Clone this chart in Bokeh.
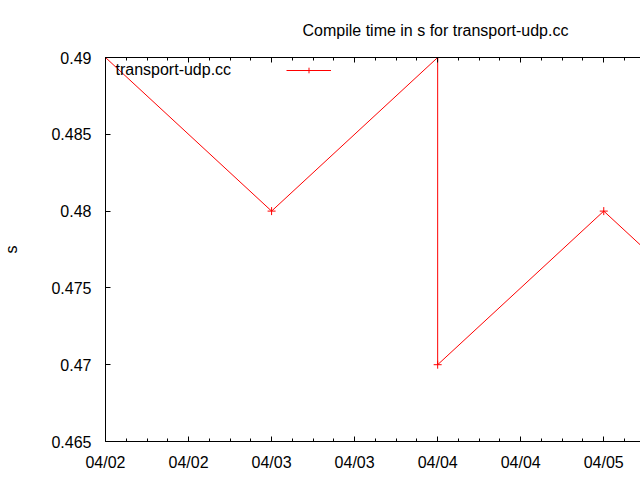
import pandas as pd
from bokeh.plotting import figure
from bokeh.models import (Range1d, SingleIntervalTicker, FixedTicker, DatetimeTickFormatter,
                          NumeralTickFormatter, DatetimeAxis, Label, Legend, LegendItem)
from bokeh.embed import file_html
from bokeh.resources import INLINE

# ---- data ----
dates = ["2013-04-02 00:00", "2013-04-03 00:00", "2013-04-04 00:00",
         "2013-04-04 00:00", "2013-04-05 00:00", "2013-04-06 00:00"]
values = [0.49, 0.48, 0.49, 0.47, 0.48, 0.47]
y_ticks = [0.465, 0.47, 0.475, 0.48, 0.485, 0.49]
series_name = "transport-udp.cc"
title_text = "Compile time in s for transport-udp.cc"
y_label = "s"

times = pd.to_datetime(dates)
FONT = "Liberation Sans"
FS = "16px"

x_start = times[0]
x_end = x_start + pd.Timedelta(hours=77.31)

p = figure(width=640, height=480, x_axis_type="datetime",
           x_range=Range1d(x_start, x_end), y_range=Range1d(0.465, 0.49),
           output_backend="svg", toolbar_location=None,
           min_border_left=104, min_border_right=0, min_border_top=57, min_border_bottom=39,
           outline_line_color=None, background_fill_color="white")
p.xgrid.visible = False
p.ygrid.visible = False

fmt_str = "%m/%d"
xfmt = DatetimeTickFormatter(microseconds=fmt_str, milliseconds=fmt_str, seconds=fmt_str,
                             minsec=fmt_str, minutes=fmt_str, hourmin=fmt_str, hours=fmt_str,
                             days=fmt_str, months=fmt_str, years=fmt_str)
xticker = SingleIntervalTicker(interval=12 * 3600 * 1000, num_minor_ticks=4)

for ax in p.xaxis:
    ax.ticker = xticker
    ax.formatter = xfmt
    ax.major_label_standoff = 12

top = DatetimeAxis(ticker=xticker, formatter=xfmt, major_label_standoff=0)
p.add_layout(top, "above")

p.yaxis.ticker = FixedTicker(ticks=y_ticks, minor_ticks=[])
p.yaxis.formatter = NumeralTickFormatter(format="0.[000]")
p.yaxis.major_label_standoff = 14
p.yaxis.axis_label = y_label
p.yaxis.axis_label_standoff = 28
p.yaxis.axis_label_text_font = FONT
p.yaxis.axis_label_text_font_size = FS
p.yaxis.axis_label_text_font_style = "normal"
p.yaxis.axis_label_text_color = "black"

for ax in [*p.xaxis, *p.yaxis, top]:
    ax.major_tick_in = 5
    ax.major_tick_out = 0
    ax.minor_tick_in = 3
    ax.minor_tick_out = 0
    ax.axis_line_color = "black"
    ax.major_tick_line_color = "black"
    ax.minor_tick_line_color = "black"
    ax.major_label_text_font = FONT
    ax.major_label_text_font_size = FS
    ax.major_label_text_color = "black"
top.major_label_text_font_size = "1px"
top.major_label_text_color = None

line_r = p.line(times, values, line_color="red", line_width=1)
pts_r = p.scatter(times, values, marker="cross", size=8, line_color="red", line_width=1)

p.title.text = title_text
p.title.align = "left"
p.title.offset = 197
p.title.text_font = FONT
p.title.text_font_size = FS
p.title.text_font_style = "normal"
p.title.text_color = "black"
p.title.standoff = 37

legend = Legend(items=[LegendItem(label=" ", renderers=[line_r, pts_r])],
                location=(181, 364), glyph_width=45, glyph_height=14,
                padding=0, margin=0, spacing=0, label_standoff=0,
                border_line_color=None, background_fill_alpha=0,
                label_text_font_size="1px")
p.add_layout(legend)

p.add_layout(Label(x=10, y=372, x_units="screen", y_units="screen", text=series_name,
                   text_font=FONT, text_font_size=FS, text_baseline="middle",
                   text_color="black"))

open("out.html", "w").write(file_html(p, INLINE))
